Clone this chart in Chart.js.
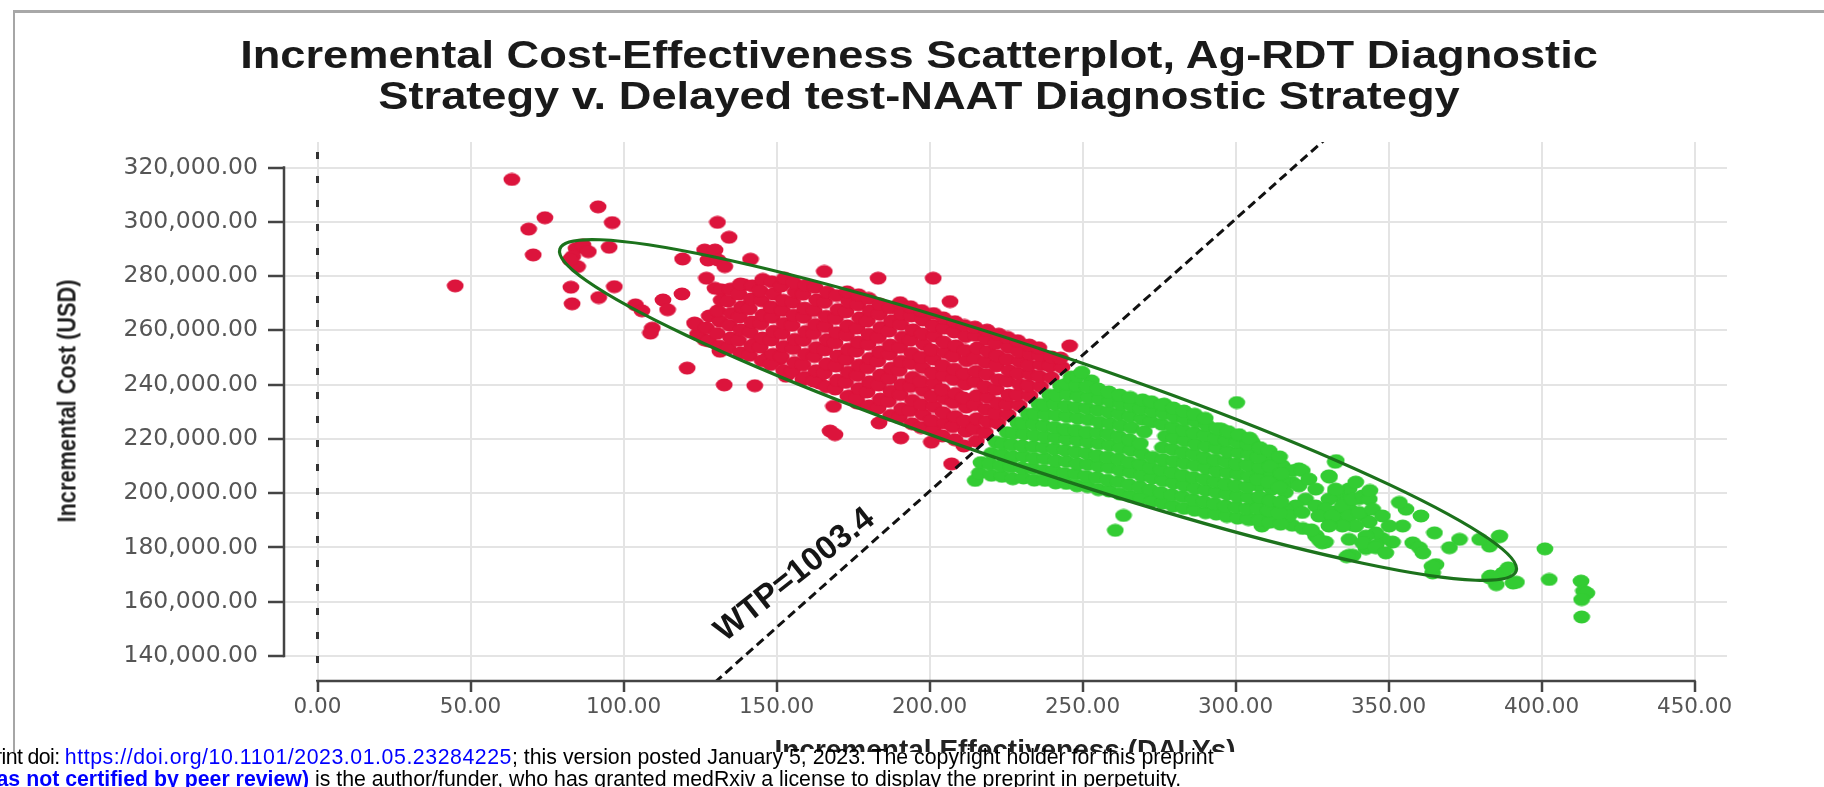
<!DOCTYPE html>
<html>
<head>
<meta charset="utf-8">
<script src="https://cdn.jsdelivr.net/npm/chart.js@4.4.1/dist/chart.umd.min.js"></script>
<style>
  html, body { margin:0; padding:0; background:#fff; }
  body { width:1824px; height:787px; overflow:hidden; position:relative; font-family:"Liberation Sans", Arial, sans-serif; }
  #frame { position:absolute; left:13px; top:10px; width:1830px; height:800px; border-top:3px solid #a8a8a8; border-left:2px solid #a6a6a6; }
  #chart { position:absolute; left:0; top:0; }
  #title { position:absolute; left:0; top:35px; width:1838px; text-align:center; font-weight:bold; font-size:38px; line-height:41px; color:#1a1a1a; transform:scaleX(1.19); transform-origin:919px 0; }
  #ytitle { position:absolute; left:67px; top:401px; transform:translate(-50%,-50%) rotate(-90deg) scaleX(0.87); font-weight:bold; font-size:25px; white-space:nowrap; color:#222; }
  #xtitle { position:absolute; left:1005px; top:750px; transform:translate(-50%,-50%); font-weight:bold; font-size:28px; white-space:nowrap; color:#222; }
  #footbg { position:absolute; left:0; top:752px; width:1824px; height:40px; background:#fff; }
  .fl { position:absolute; white-space:nowrap; left:0; font-size:21.3px; line-height:21.5px; color:#000; }
  .blue { color:#0000ff; }
  .lk { letter-spacing:0.55px; }
  .pre { letter-spacing:-0.6px; }
</style>
</head>
<body>
<div id="frame"></div>
<canvas id="chart" width="1824" height="787"></canvas>
<div id="title">Incremental Cost-Effectiveness Scatterplot, Ag-RDT Diagnostic<br>Strategy v. Delayed test-NAAT Diagnostic Strategy</div>
<div id="ytitle">Incremental Cost (USD)</div>
<div id="xtitle">Incremental Effectiveness (DALYs)</div>
<div id="footbg"></div>
<div class="fl" id="line1" style="top:747px"><span class="pre">medRxiv preprint doi: </span><span class="blue lk">https://doi.org/10.1101/2023.01.05.23284225</span><span id="m1"></span>; this version posted January 5, 2023. The copyright holder for this preprint</div>
<div class="fl" id="line2" style="top:768.5px"><b class="blue">(which was not certified by peer review)</b><span id="m2"></span> is the author/funder, who has granted medRxiv a license to display the preprint in perpetuity.</div>

<script>
// ---- tick labels ----
const xTickValues = [0, 50, 100, 150, 200, 250, 300, 350, 400, 450];
const yTickValues = [140000, 160000, 180000, 200000, 220000, 240000, 260000, 280000, 300000, 320000];

// ---- willingness-to-pay threshold (USD per DALY) ----
const wtpSlope = 1003.4;
const wtpLabel = "WTP=1003.4";

// ---- confidence ellipse (data units): tips of major axis, vertical half-chord at centre ----
const ellipseTips = [[79.2, 290000], [391.7, 171300]];
const ellipseHalfChord = 22800;

// ---- ICER above WTP (red) : [incremental effectiveness, incremental cost] ----
const redPoints = [
[63.5,315600],[45,276400],[69,297300],[74.3,301500],[70.5,287800],[91.7,305500],[96.3,299700],[95.3,290600],[97,276100],[82.8,275900],[83.2,269800],[91.9,272100],
[84.5,290200],[86.7,291500],[83.4,287200],[85,283500],[82.5,286000],[88.5,289000],[103.9,269400],[106,267200],[112.9,271200],[114.4,267600],[119.1,273400],[109.4,260800],[108.8,259000],
[120.8,246100],[132.9,239900],[142.9,239600],[130.7,299800],[134.5,294300],[119.3,286300],[126.5,289600],[129.9,289600],[127.6,285900],[130.9,285900],[133.1,283500],[141.5,286200],
[127.1,279200],[129.9,275500],[132.1,274900],[123.2,262700],[126.5,256500],[131.5,252300],[165.6,281700],[183.2,279200],[201.2,279200],[206.7,270600],[167.5,222900],[169.1,221600],
[190.6,220400],[168.6,232000],[174.1,235700],[176.3,233300],[183.5,225900],[139.3,276800],[143.1,255300],[245.8,254300],[207.2,210800],[200.6,218800],[153.1,243100],[158.6,241800],[164.1,240600],[147.5,250400],[150.9,249200],
[124.2,258600],[123.6,262300],
[127.8,256100],[127.1,260900],[128,265300],
[131.3,254200],[130.6,258900],[131.5,263400],[130.8,267200],[131.9,271100],
[134.2,253400],[135,257200],[134.6,261900],[135.2,266300],[134.1,270800],[134.9,275200],
[138.3,251700],[137.6,256300],[138.4,260200],[137.9,264900],[138.6,268700],[137.7,273400],[138.2,277100],
[141.2,250800],[141.9,254300],[141.4,259300],[142,263100],[141.1,267900],[141.7,271600],[142.1,276400],
[145.3,248800],[144.7,253800],[145.4,257200],[144.9,262400],[145.6,265700],[145.1,270900],[144.6,274600],[145.5,278800],
[148.1,247400],[148.9,251200],[148.3,256400],[149.1,259700],[148.6,264800],[148.2,268600],[149,273400],[148.4,277900],
[152.3,245200],[151.6,250300],[152.4,254100],[151.8,258900],[152.5,262600],[151.9,267400],[152.2,271100],[151.5,276300],[152.6,279200],
[155.2,244800],[155.9,248200],[155.4,253300],[156,256700],[155.1,261800],[155.7,265600],[155.3,270400],[156.1,274200],[155.6,277600],
[159.3,242700],[158.6,247300],[159.4,251200],[158.8,256300],[159.5,259600],[158.9,264800],[159.2,268200],[158.7,273300],[159.6,276600],
[162.2,241300],[162.9,245200],[162.4,250300],[163,253700],[162.1,258800],[162.7,262200],[162.3,267300],[163.1,271200],[162.6,275800],
[166.3,239200],[165.6,244300],[166.4,247700],[165.8,252800],[166.5,256600],[165.9,261400],[166.2,265200],[165.7,270300],[166.6,274100],
[169.2,238400],[169.9,241700],[169.4,246800],[170,250600],[169.1,255400],[169.7,259200],[169.3,264300],[170.1,267700],[169.6,272800],
[173.3,235700],[172.6,240800],[173.4,244600],[172.8,249300],[173.5,253100],[172.9,258200],[173.2,261700],[172.7,266800],[173.6,270600],[173.1,274200],
[176.2,234800],[176.9,238600],[176.4,243400],[177,247200],[176.1,252300],[176.7,255700],[176.3,260800],[177.1,264600],[176.6,269400],[176.8,273100],
[180.3,232200],[179.6,237300],[180.4,241100],[179.8,246200],[180.5,249700],[179.9,254800],[180.2,258600],[179.7,263400],[180.6,267200],[180.1,271800],
[183.2,231400],[183.9,234700],[183.4,239800],[184,243600],[183.1,248700],[183.7,252100],[183.3,257300],[184.1,261100],[183.6,265900],[183.8,269600],
[187.3,228700],[186.6,233800],[187.4,237600],[186.8,242300],[187.5,246100],[186.9,251200],[187.2,254600],[186.7,259700],[187.6,263500],[187.1,268300],
[190.2,227900],[190.9,231200],[190.4,236300],[191,240100],[190.1,245200],[190.7,248600],[190.3,253700],[191.1,257500],[190.6,262300],[190.8,266100],[190.4,270200],
[194.3,225600],[193.6,230400],[194.4,234200],[193.8,239300],[194.5,242700],[193.9,247800],[194.2,251600],[193.7,256400],[194.6,260200],[194.1,265300],[193.8,268700],
[197.2,224200],[197.9,228900],[197.4,232700],[198,237800],[197.1,241200],[197.7,246300],[197.3,250100],[198.1,254900],[197.6,258700],[197.8,263800],[197.4,267300],
[201.3,223400],[200.6,226800],[201.4,231900],[200.8,235700],[201.5,240500],[200.9,244300],[201.2,249400],[200.7,252800],[201.6,257900],[201.1,261700],[201.3,266200],
[204.2,221100],[204.9,225900],[204.4,229700],[205,234800],[204.1,238200],[204.7,243300],[204.3,247100],[205.1,251900],[204.6,255700],[204.8,260800],[204.5,264600],
[208.3,219700],[207.6,224500],[208.4,228300],[207.8,233400],[208.5,236800],[207.9,241900],[208.2,245700],[207.7,250500],[208.6,254300],[208.1,259400],[208.3,263200],
[211.2,217400],[211.9,222800],[211.4,226600],[212,231700],[211.1,235100],[211.7,240200],[211.3,244000],[212.1,248800],[211.6,252600],[211.8,257700],[211.4,261800],
[215.3,219200],[214.6,223700],[215.4,227500],[214.8,232600],[215.5,236000],[214.9,241100],[215.2,244900],[214.7,249700],[215.6,253500],[215.1,258100],[214.8,261200],
[218.2,222400],[218.9,226300],[218.4,230800],[219,235200],[218.1,239300],[218.7,243800],[218.3,248300],[219.1,252200],[218.6,256700],[218.8,260100],
[222.3,225800],[221.6,229400],[222.4,233200],[221.8,238300],[222.5,241800],[221.9,246900],[222.2,250700],[221.7,255200],[222.6,258600],
[225.7,228900],[225.2,232800],[225.9,236200],[225.4,241300],[226,245100],[225.3,249300],[225.8,253700],[225.5,257400],
[229.3,232400],[228.7,236300],[229.4,240100],[228.9,244200],[229.5,248400],[229.1,252100],[228.8,256200],
[232.8,235900],[232.2,239600],[232.9,243700],[232.4,247200],[233,251300],[232.6,254600],
[236.3,239300],[235.8,243100],[236.4,247400],[236,250800],[235.7,253600],
[239.8,242600],[239.3,246800],[239.9,250200],
[243.3,246400],[242.8,249800]
];

// ---- ICER below WTP (green) ----
const greenPoints = [
[214.9,204700],[252.9,241400],[300.4,233400],[295.4,223600],[263.4,191800],[260.7,186300],[276.7,232800],[277.8,230400],
[401.1,179500],[402.5,168200],[412.9,167600],[413.7,163900],[414.8,163200],[413.1,160800],[413.1,154400],
[391.8,167200],[390.7,166900],[385.2,166300],[383,168800],[387.4,170600],[389.1,172500],[386.3,184200],[383,180500],[379.8,183000],
[373.2,183000],[369.9,179900],[365.5,173700],[364.4,170600],[365,185400],[360.6,191600],[355.7,194100],[354.6,187900],[353.5,196600],[357.9,181700],[360.1,179900],[361.2,178000],
[351.3,182000],[348,183300],[345.9,180800],[342.6,179600],[337.1,177100],[329.4,182000],[326.2,184500],
[330.5,206400],[332.6,211400],[320.7,209000],[315.2,210200],[309.7,212700],[305.4,218800],[318.5,188200],
[332.7,193100],[337.1,194300],[341.5,191800],[343.7,189400],[338.2,188200],[333.8,189400],[330.5,190600],[328.3,194300],[334.9,198000],[340.4,198000],[337.1,201600],[339.3,204100],[332.7,200400],
[308.6,214400],[312.5,212600],[318.5,208300],[321.8,208300],[318.5,204000],[315.2,205200],[310.8,206400],[306.5,207700],[307.6,202700],[311.9,201500],[316.3,200300],[320.7,202700],
[324,205200],[326.2,201500],[322.9,197800],[319.6,195300],[316.3,194100],[313,195300],[309.7,197800],[306.5,197800],[308.6,192900],[313,190400],[317.4,191600],[321.8,192900],
[326.2,195300],[330.5,197800],[332.7,201500],[329.4,194100],[327.2,191600],[331.6,191600],[334.9,195300],[338.2,197800],[341.5,199000],[343.7,197800],[337.1,191600],[340.4,192900],
[344.8,194100],[348,191600],[350.2,187900],[345.8,185400],[342.6,184200],[339.3,187900],[334.9,187900],[330.5,187900],[337.1,183000],[341.5,181700],[345.8,179900],[349.1,178000],
[326.2,184200],[328.3,181700],[305.4,190400],[308.6,187900],
[332.9,212000],[330.7,205900],[343.9,201000],[327.4,182600],[338.4,177100],[336.3,176600],[364.2,173000],[383.3,169500],[386.2,184000],
[216.3,207400],[216.8,211300],
[220.2,206600],[219.7,210800],[220.3,214700],[221.8,218800],
[223.7,206200],[223.2,210100],[223.8,214300],[224,218200],[225.4,222300],
[227.2,205300],[226.7,209700],[227.3,213400],[226.9,217800],[227.5,222100],[228.9,225800],
[230.7,205600],[230.2,209300],[230.8,213600],[230.3,217400],[230.9,221800],[230.6,225700],[232.3,229100],
[234.2,204800],[233.7,209200],[234.3,212800],[233.9,217100],[234.4,221300],[234.1,225400],[234.5,229300],[235.8,232700],
[237.7,204700],[237.2,208400],[237.8,212700],[237.3,216800],[237.9,220700],[237.4,224800],[238,228900],[237.6,232600],[239.3,236100],
[241.2,203800],[240.7,208200],[241.3,211900],[240.8,216300],[241.4,220400],[240.9,224300],[241.5,228700],[241,232800],[241.6,236200],[242.8,239500],
[244.7,203600],[244.2,207300],[244.8,211700],[244.3,215800],[244.9,219900],[244.4,223600],[245,228200],[244.6,232100],[245.1,236400],[244.8,240300],[246.3,242800],
[248.2,202700],[247.7,207100],[248.3,210800],[247.8,215200],[248.4,219300],[247.9,223200],[248.5,227600],[248,231700],[248.6,235800],[248.1,239600],[248.4,243100],[249.8,244600],
[251.7,202400],[251.2,206200],[251.8,210600],[251.3,214700],[251.9,218800],[251.4,222500],[252,227100],[251.5,231300],[252.1,235200],[251.6,239200],
[255.2,201300],[254.7,205700],[255.3,209900],[254.8,213800],[255.4,218200],[254.9,222300],[255.5,226200],[255,230600],[255.6,234700],[255.1,238400],
[258.7,200800],[258.2,204800],[258.8,209400],[258.3,213300],[258.9,217600],[258.4,221800],[259,225700],[258.5,229900],[259.1,233800],[258.6,237300],
[262.2,199700],[261.7,204200],[262.3,208300],[261.8,212600],[262.4,216700],[261.9,220800],[262.5,224900],[262,229200],[262.6,232700],[262.1,236200],
[265.7,198900],[265.2,203100],[265.8,207600],[265.3,211400],[265.9,215800],[265.4,219700],[266,224100],[265.5,228300],[266.1,232200],[265.6,235300],
[269.2,198200],[268.7,202300],[269.3,206400],[268.8,210700],[269.4,214600],[268.9,218300],[270.2,222600],[269.5,227200],[269,231100],[269.6,234400],
[272.7,197100],[272.2,201200],[272.8,205600],[272.3,209400],[272.9,213200],[272.4,226300],[273,230200],[272.5,233700],
[276.2,196300],[275.7,200200],[276.3,204600],[275.8,208700],[276.4,212300],[276.1,216800],[277.1,221000],[275.9,225400],[276.5,229300],[276,232600],
[279.7,195200],[279.2,199400],[279.8,203700],[279.3,207800],[279.9,211800],[279.4,216200],[280,220300],[279.6,224300],[280.1,228200],[279.7,231400],
[283.2,194400],[282.7,198700],[283.3,202800],[282.8,206600],[283.4,210900],[282.9,215100],[283.5,219300],[283,223200],[283.6,227100],[283.1,230300],
[286.7,193700],[286.2,197600],[286.8,201700],[286.3,205800],[286.9,210200],[286.4,214300],[287,218100],[286.5,222200],[287.1,226300],[286.6,229100],
[290.2,192800],[289.7,196900],[290.3,201100],[289.8,205200],[290.4,209300],[289.9,213100],[290.5,217200],[290,221400],[290.6,225100],[290.1,227600],
[293.7,192300],[293.2,196100],[293.8,200200],[293.3,204300],[293.9,208100],[293.4,212200],[294,216400],[293.5,220100],[294.1,223800],
[297.2,191400],[296.7,195300],[297.3,199600],[296.8,203400],[297.4,207500],[296.9,211600],[297.5,215300],[297,219400],[297.6,222700],
[300.7,190800],[300.2,194900],[300.8,198700],[300.3,202800],[300.9,206900],[300.4,210800],[301,214900],[300.5,218800],[301.1,221600],
[304.2,190300],[303.7,194200],[304.3,198400],[303.8,202300],[304.4,206200],[303.9,210400],[304.5,214300],[304,218100],[304.6,220300],
[307.7,190100],[307.2,194400],[307.8,198600],[307.3,205100],[307.9,209400],[307.4,213200],[308,216800],
[311.2,189300],[310.7,193600],[311.3,197200],[310.8,204100],[311.4,209900],[311,215600],
[314.7,188600],[314.2,192700],[314.8,196800],[314.3,202200],[314.9,207200],[314.4,213400],
[322,187000],[324.8,186500]
];

// ---- styles ----
const RED = '#dc143c', GREEN = '#33cc33';
function dotImage(color) {
  const c = document.createElement('canvas');
  c.width = 18; c.height = 14;
  const g = c.getContext('2d');
  g.fillStyle = color;
  g.beginPath(); g.ellipse(9, 7, 8.4, 6.4, 0, 0, Math.PI * 2); g.fill();
  return c;
}

const decor = {
  id: 'decor',
  beforeDatasetsDraw(chart) {
    const {ctx, chartArea: a, scales: {x}} = chart;
    const px = x.getPixelForValue(0);
    ctx.save();
    ctx.strokeStyle = '#333'; ctx.lineWidth = 3;
    ctx.setLineDash([7, 17]); ctx.lineDashOffset = 14;
    ctx.beginPath(); ctx.moveTo(px, a.top); ctx.lineTo(px, a.bottom); ctx.stroke();
    ctx.restore();
  },
  afterDatasetsDraw(chart) {
    const {ctx, chartArea: a, scales: {x, y}} = chart;
    const opts = chart.options.plugins.decor;
    ctx.save();
    // confidence ellipse
    const p1 = [x.getPixelForValue(ellipseTips[0][0]), y.getPixelForValue(ellipseTips[0][1])];
    const p2 = [x.getPixelForValue(ellipseTips[1][0]), y.getPixelForValue(ellipseTips[1][1])];
    const cx = (p1[0] + p2[0]) / 2, cy = (p1[1] + p2[1]) / 2;
    const th = Math.atan2(p2[1] - p1[1], p2[0] - p1[0]);
    const ra = Math.hypot(p2[0] - p1[0], p2[1] - p1[1]) / 2;
    const h = Math.abs(y.getPixelForValue(0) - y.getPixelForValue(ellipseHalfChord));
    const rb = Math.cos(th) / Math.sqrt(1 / (h * h) - Math.pow(Math.sin(th) / ra, 2));
    ctx.strokeStyle = '#1c721c'; ctx.lineWidth = 3.2;
    ctx.beginPath(); ctx.ellipse(cx, cy, ra, rb, th, 0, Math.PI * 2); ctx.stroke();

    // axis brackets
    ctx.strokeStyle = '#444'; ctx.lineWidth = 2.5; ctx.lineCap = 'butt';
    ctx.beginPath();
    ctx.moveTo(a.left, y.getPixelForValue(yTickValues[yTickValues.length - 1]) - 1.2);
    ctx.lineTo(a.left, y.getPixelForValue(yTickValues[0]) + 1.2);
    ctx.stroke();
    ctx.beginPath();
    ctx.moveTo(x.getPixelForValue(xTickValues[0]) - 1.2, a.bottom);
    ctx.lineTo(x.getPixelForValue(xTickValues[xTickValues.length - 1]) + 1.2, a.bottom);
    ctx.stroke();

    // WTP label
    const lx = x.getPixelForValue(opts.labelAt[0]), ly = y.getPixelForValue(opts.labelAt[1]);
    ctx.translate(lx, ly); ctx.rotate(-opts.labelAngle * Math.PI / 180);
    ctx.fillStyle = '#151515';
    ctx.font = 'bold 33px "Liberation Sans", Arial, sans-serif';
    ctx.textAlign = 'center'; ctx.textBaseline = 'middle';
    ctx.fillText(wtpLabel, 0, 0);
    ctx.restore();
  }
};

new Chart(document.getElementById('chart'), {
  type: 'scatter',
  data: {
    datasets: [
      {
        type: 'line', label: 'WTP', showLine: true,
        data: [{x: 0, y: 0}, {x: 470, y: 470 * wtpSlope}],
        borderColor: '#111', borderWidth: 3, borderDash: [9, 5],
        pointRadius: 0, fill: false, order: 0
      },
      {
        label: 'Above WTP', data: redPoints.map(p => ({x: p[0], y: p[1]})),
        pointStyle: dotImage(RED), pointRadius: 7, backgroundColor: RED, order: 2
      },
      {
        label: 'Below WTP', data: greenPoints.map(p => ({x: p[0], y: p[1]})),
        pointStyle: dotImage(GREEN), pointRadius: 7, backgroundColor: GREEN, order: 1
      }
    ]
  },
  options: {
    responsive: false, animation: false, devicePixelRatio: 1,
    layout: {padding: {left: 0, right: 97, top: 142, bottom: 0}},
    plugins: {legend: {display: false}, tooltip: {enabled: false}, title: {display: false},
              decor: {labelAt: [156, 169800], labelAngle: 38.5}},
    scales: {
      x: {
        type: 'linear', min: -10.95, max: 460.6,
        afterFit(s) { s.height = 106; },
        afterBuildTicks(s) { s.ticks = xTickValues.map(v => ({value: v})); },
        grid: {color: '#e4e4e4', lineWidth: 2, tickLength: 11, tickColor: '#444', tickWidth: 2.5},
        border: {display: false},
        ticks: {font: {family: '"DejaVu Sans", sans-serif', size: 21.5}, color: '#555', padding: 3, maxRotation: 0, autoSkip: false,
                callback: v => Number(v).toFixed(2)}
      },
      y: {
        type: 'linear', min: 130800, max: 329400,
        afterFit(s) { s.width = 284; },
        afterBuildTicks(s) { s.ticks = yTickValues.map(v => ({value: v})); },
        grid: {color: '#e4e4e4', lineWidth: 2, tickLength: 16, tickColor: '#444', tickWidth: 2.5},
        border: {display: false},
        ticks: {font: {family: '"DejaVu Sans", sans-serif', size: 23.5}, color: '#555', padding: 10, autoSkip: false,
                callback: v => Number(v).toLocaleString('en-US', {minimumFractionDigits: 2, maximumFractionDigits: 2})}
      }
    }
  },
  plugins: [decor]
});

// align the clipped footer lines
const l1 = document.getElementById('line1'), m1 = document.getElementById('m1');
l1.style.left = (512 - m1.getBoundingClientRect().left) + 'px';
const l2 = document.getElementById('line2'), m2 = document.getElementById('m2');
l2.style.left = (309 - m2.getBoundingClientRect().left) + 'px';
</script>
</body>
</html>
